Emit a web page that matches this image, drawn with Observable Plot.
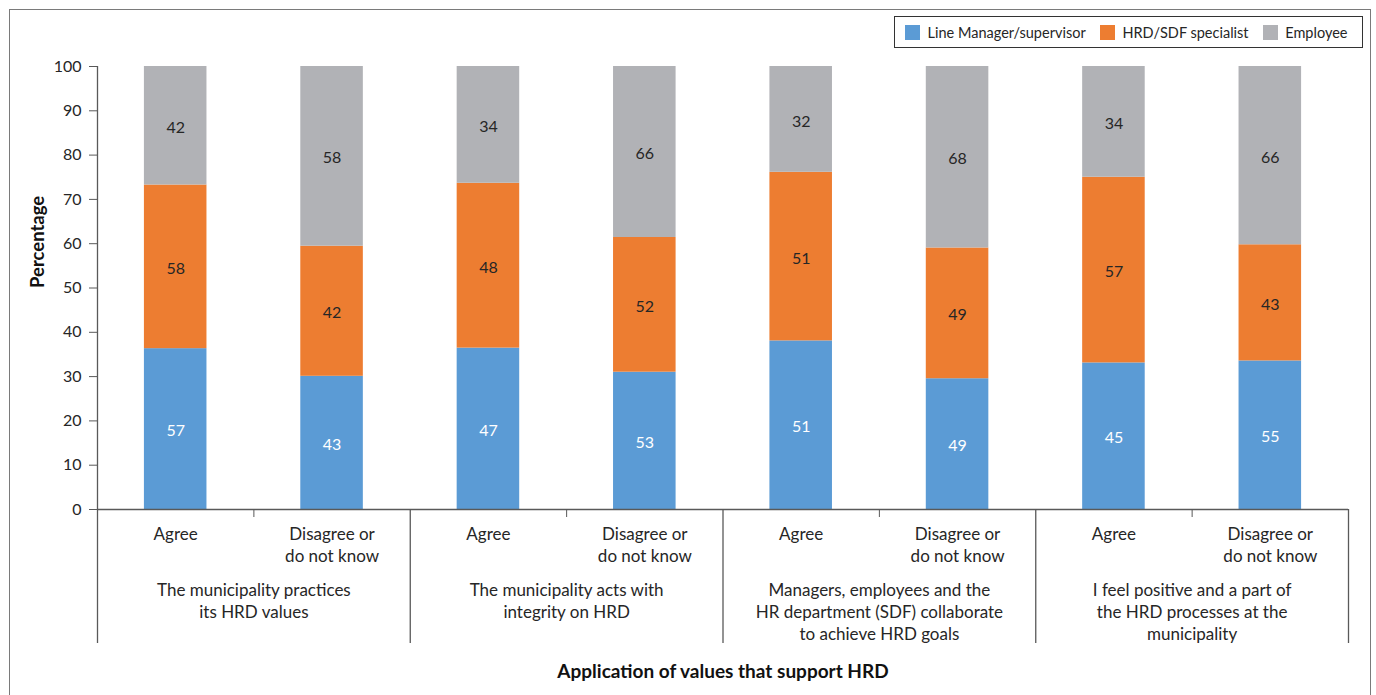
<!DOCTYPE html>
<html>
<head>
<meta charset="utf-8">
<script src="https://cdn.jsdelivr.net/npm/d3@7"></script>
<script src="https://cdn.jsdelivr.net/npm/@observablehq/plot@0.6"></script>
<style>
  body { margin: 0; background: #fff; }
  #wrap { position: relative; width: 1376px; height: 695px; overflow: hidden; font-family: Lato, sans-serif; }
  #wrap > svg { position: absolute; left: 0; top: 0; }
  #frame { position: absolute; left: 9px; top: 9px; width: 1360px; height: 800px; border: 1.5px solid #7a7a7a; }
</style>
</head>
<body>
<div id="wrap"><div id="frame"></div></div>
<script>
// Statements, the two answer columns under each, and who answered
const groups = [
  "The municipality practices\nits HRD values",
  "The municipality acts with\nintegrity on HRD",
  "Managers, employees and the\nHR department (SDF) collaborate\nto achieve HRD goals",
  "I feel positive and a part of\nthe HRD processes at the\nmunicipality"
];
const responses = ["Agree", "Disagree or\ndo not know"];
const roles = ["Line Manager/supervisor", "HRD/SDF specialist", "Employee"];
const roleColors = ["#5B9BD5", "#ED7D31", "#B1B2B6"];

// Percentages per role, in order: statement 1 agree, statement 1 disagree, statement 2 agree, ...
const lineManager   = [57, 43, 47, 53, 51, 49, 45, 55];
const hrdSpecialist = [58, 42, 48, 52, 51, 49, 57, 43];
const employee      = [42, 58, 34, 66, 32, 68, 34, 66];

const yTickLabels = [0, 10, 20, 30, 40, 50, 60, 70, 80, 90, 100];
const axisTitle = "Application of values that support HRD";
const yTitle = "Percentage";

// One row per bar segment; bars are indexed left to right
const series = [lineManager, hrdSpecialist, employee];
const rows = [];
lineManager.forEach((_, slot) => {
  roles.forEach((role, r) => {
    rows.push({slot, role, value: series[r][slot]});
  });
});
const slots = lineManager.map((_, i) => i);
const slotCenters = slots.map(i => i + 0.5);
const innerBounds = groups.map((_, g) => 2 * g + 1);
const groupBounds = [...groups.map((_, g) => 2 * g), 2 * groups.length];

const step = 1251 / slots.length;
const inset = step * 0.3;
const ink = "#262626";
const lineColor = "#595959";

const chart = Plot.plot({
  width: 1376,
  height: 695,
  marginLeft: 97,
  marginRight: 28,
  marginTop: 66,
  marginBottom: 186,
  style: {fontFamily: "Lato, sans-serif", fontSize: "16px", color: ink, background: "transparent"},
  x: {domain: [0, slots.length]},
  y: {domain: [0, 1]},
  color: {domain: roles, range: roleColors},
  marks: [
    Plot.rectY(rows, {
      x1: d => d.slot,
      x2: d => d.slot + 1,
      y: "value",
      fill: "role",
      offset: "normalize",
      insetLeft: inset,
      insetRight: inset
    }),
    Plot.text(rows, Plot.stackY({
      x: d => d.slot + 0.5,
      y: "value",
      z: "role",
      offset: "normalize",
      text: d => d.role === roles[0] ? null : String(d.value),
      fill: ink,
      fontSize: 16,
      dy: 2
    })),
    Plot.text(rows, Plot.stackY({
      x: d => d.slot + 0.5,
      y: "value",
      z: "role",
      offset: "normalize",
      text: d => d.role === roles[0] ? String(d.value) : null,
      fill: "white",
      fontSize: 16,
      dy: 2
    })),
    Plot.ruleX([0], {stroke: lineColor, strokeWidth: 1.3}),
    Plot.ruleY([0], {stroke: lineColor, strokeWidth: 1.3}),
    Plot.axisY(yTickLabels.map(t => t / 100), {
      tickSize: 8,
      tickPadding: 8,
      tickFormat: d => String(Math.round(d * 100)),
      stroke: lineColor,
      fill: ink,
      fontSize: 16,
      label: null
    }),
    Plot.axisX(innerBounds, {tickSize: 8, tickFormat: () => "", stroke: lineColor, label: null}),
    Plot.axisX(groupBounds, {tickSize: 134, tickFormat: () => "", stroke: lineColor, strokeWidth: 1.3, label: null}),
    Plot.axisX(slotCenters, {
      tickSize: 0,
      tickPadding: 15,
      tickFormat: d => responses[Math.floor(d) % responses.length],
      fill: ink,
      fontSize: 17,
      lineHeight: 1.3,
      label: null
    }),
    Plot.axisX(innerBounds, {
      tickSize: 0,
      tickPadding: 71,
      tickFormat: d => groups[(d - 1) / 2],
      fill: ink,
      fontSize: 17,
      lineHeight: 1.3,
      label: null
    }),
    Plot.text([yTitle], {
      frameAnchor: "left",
      rotate: -90,
      dx: -59,
      fontWeight: "bold",
      fontSize: 18.5,
      fill: "#111"
    }),
    Plot.text([axisTitle], {
      frameAnchor: "bottom",
      dy: 168,
      fontWeight: "bold",
      fontSize: 19,
      fill: "#111"
    })
  ]
});

const wrap = document.getElementById("wrap");
wrap.appendChild(chart);

// Role key in a bordered box at the top right
const key = chart.legend("color", {swatchSize: 15, className: "roles"});
Object.assign(key.style, {
  position: "absolute",
  right: "13px",
  top: "16px",
  height: "32px",
  minHeight: "0",
  boxSizing: "border-box",
  border: "1.5px solid #333",
  padding: "0 0 0 10px",
  background: "#fff",
  fontFamily: "Lato, sans-serif",
  fontSize: "14.5px",
  color: ink,
  margin: "0"
});
wrap.appendChild(key);
</script>
</body>
</html>
